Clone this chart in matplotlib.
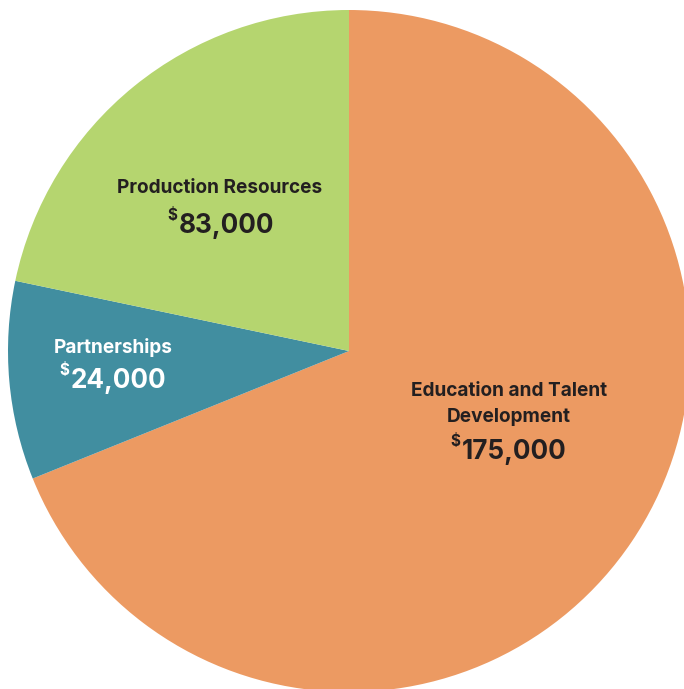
import matplotlib.pyplot as plt

# Budget allocation (wedge shares as drawn in the original graphic)
categories = ["Education and Talent\nDevelopment", "Partnerships", "Production Resources"]
amounts = ["175,000", "24,000", "83,000"]
shares = [68.9, 9.4, 21.7]
colors = ["#EC9A62", "#418EA0", "#B5D56F"]

W, H = 684, 689
fig = plt.figure(figsize=(W / 100, H / 100), dpi=100)
ax = fig.add_axes([0, 0, 1, 1])

ax.pie(shares, colors=colors, startangle=90, counterclock=False,
       center=(349, H - 351), radius=341, frame=True,
       wedgeprops=dict(linewidth=0))
ax.set_xlim(0, W)
ax.set_ylim(0, H)
ax.set_aspect("equal")
ax.axis("off")

font = "Inter"
dark = "#231F20"

# label layout in image pixels: (centre x, first name baseline, amount x, amount baseline, colour)
layout = [
    (509, 396, 514, 459, dark),
    (113, 353, 118, 388, "white"),
    (220, 193, 226, 233, dark),
]

fig.canvas.draw()
renderer = fig.canvas.get_renderer()
for cat, amt, (nx, ny, mx, my, col) in zip(categories, amounts, layout):
    for i, line in enumerate(cat.split("\n")):
        ax.text(nx, H - (ny + 26 * i), line, ha="center", va="baseline",
                fontsize=13.7, fontweight="bold", color=col, family=font)
    t = ax.text(mx, H - my, amt, ha="center", va="baseline", fontsize=18.8,
                fontweight="bold", color=col, family=font)
    bb = t.get_window_extent(renderer=renderer)
    left = ax.transData.inverted().transform((bb.x0, 0))[0]
    ax.text(left - 1, H - (my - 13), "$", ha="right", va="baseline", fontsize=11,
            fontweight="bold", color=col, family=font)

fig.savefig("out.png", dpi=100)
